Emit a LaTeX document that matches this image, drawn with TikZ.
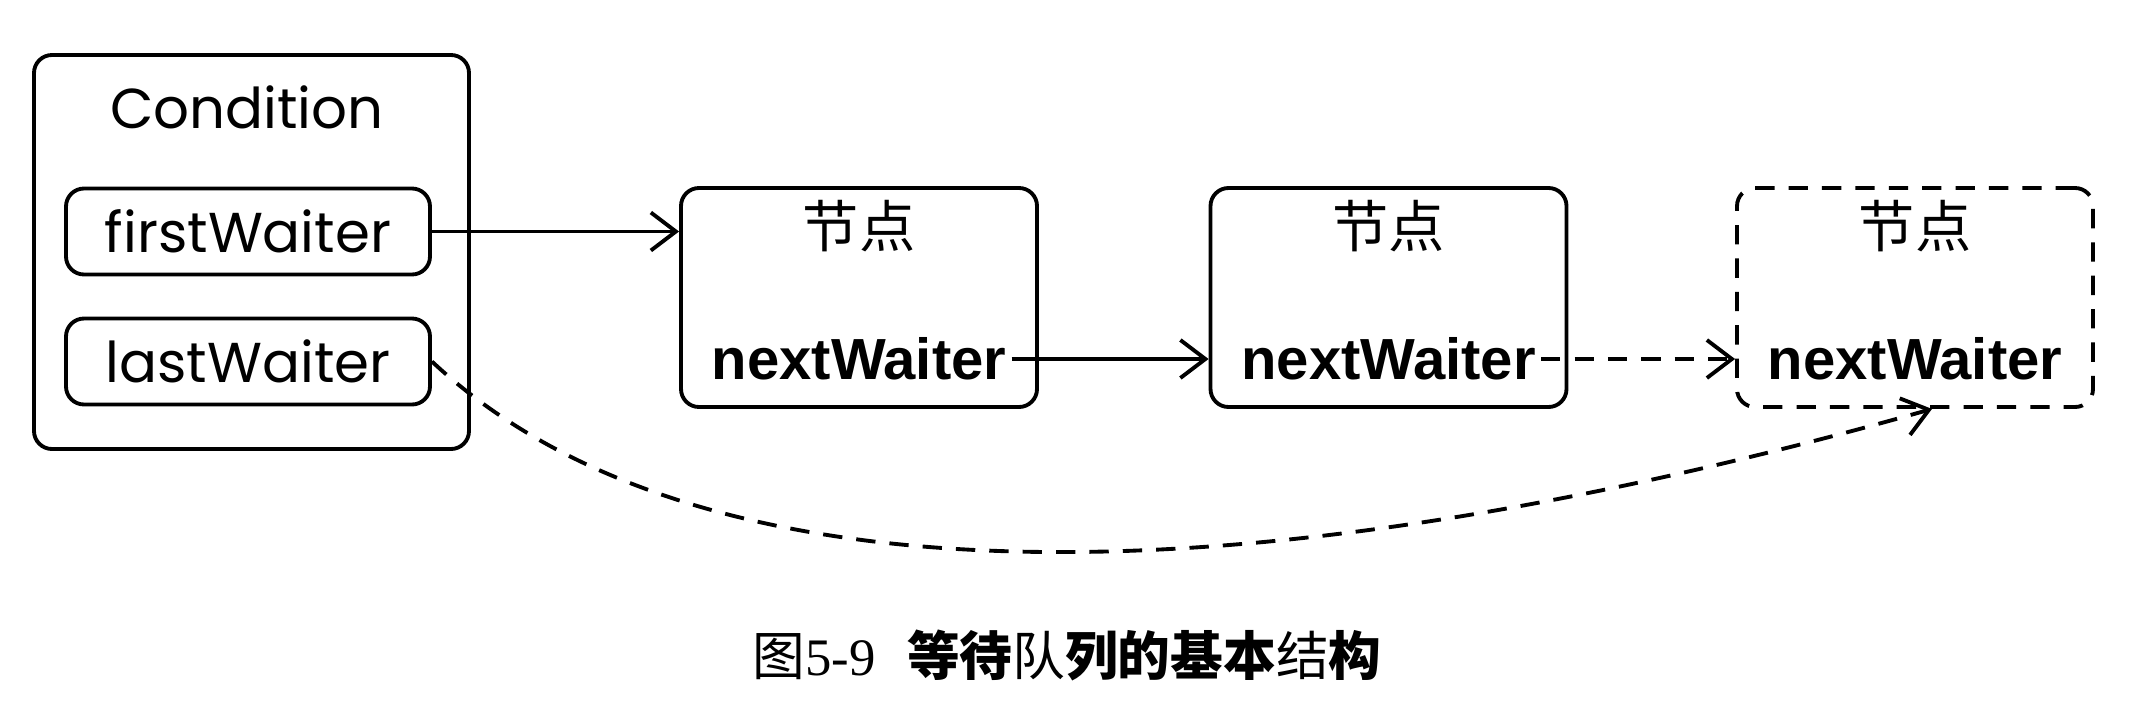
\documentclass[tikz,border=0pt]{standalone}
\usepackage{fontspec}
\setmainfont{Liberation Serif}
\newfontfamily\geofont{Poppins}
\newfontfamily\arialfont{Liberation Sans}
\newfontfamily\cjkfont{Noto Sans CJK SC}
\usetikzlibrary{arrows.meta,positioning}
\tikzset{
  box/.style={draw, rounded corners=1.8mm, inner sep=0pt},
  dashline/.style={dash pattern=on 5.5pt off 4pt},
  field/.style={box, minimum width=3.64cm, minimum height=0.86cm,
    font=\geofont\fontsize{16}{18}\selectfont},
  qnode/.style={box, minimum width=3.56cm, minimum height=2.19cm},
  titletext/.style={font=\cjkfont\fontsize{16}{18}\selectfont},
  nexttext/.style={inner sep=1pt, font=\arialfont\bfseries\fontsize{16.5}{19}\selectfont},
  link/.style={-{Straight Barb[length=2.5mm,width=3.8mm]}},
}
\begin{document}
\begin{tikzpicture}[line width=1.1pt]
\useasboundingbox (0,0) rectangle (21.48,7.12);

% condition object
\node (cond) [box, minimum width=4.35cm, minimum height=3.94cm] at (2.515,4.60) {};
\node (condtitle) [font=\geofont\fontsize{16}{18}\selectfont] at (2.47,6.05) {Condition};
\node (first) [field] at (2.48,4.805) {firstWaiter};
\node (last) [field] at (2.48,3.505) {lastWaiter};

% waiting nodes
\foreach \nd/\x/\ln in {n1/8.59/solid, n2/13.885/solid, n3/19.15/dashline}{
  \node (\nd) [qnode, \ln] at (\x,4.145) {};
  \node (\nd-title) [titletext] at (\x,4.86) {节点};
  \node (\nd-next) [nexttext] at (\x,3.53) {nextWaiter};
}

\coordinate (lastend) at ([xshift=1.7mm]n3.south);

\draw [link] (first.east) -- (first.east -| n1.west);
\draw [link] (n1-next.east) -- (n1-next.east -| n2.west);
\draw [link, dashline] (n2-next.east) -- (n2-next.east -| n3.west);
\draw [link, dashline] (last.east) .. controls (7,1.0) and (12.5,1.1) .. (lastend);

\node (caption) [font=\fontsize{15}{18}\selectfont] at (10.67,0.57)
  {{\cjkfont 图}5-9\hspace{0.6em}{\cjkfont\bfseries 等待}{\cjkfont 队}{\cjkfont\bfseries 列的基本}{\cjkfont 结}{\cjkfont\bfseries 构}};

\end{tikzpicture}
\end{document}
